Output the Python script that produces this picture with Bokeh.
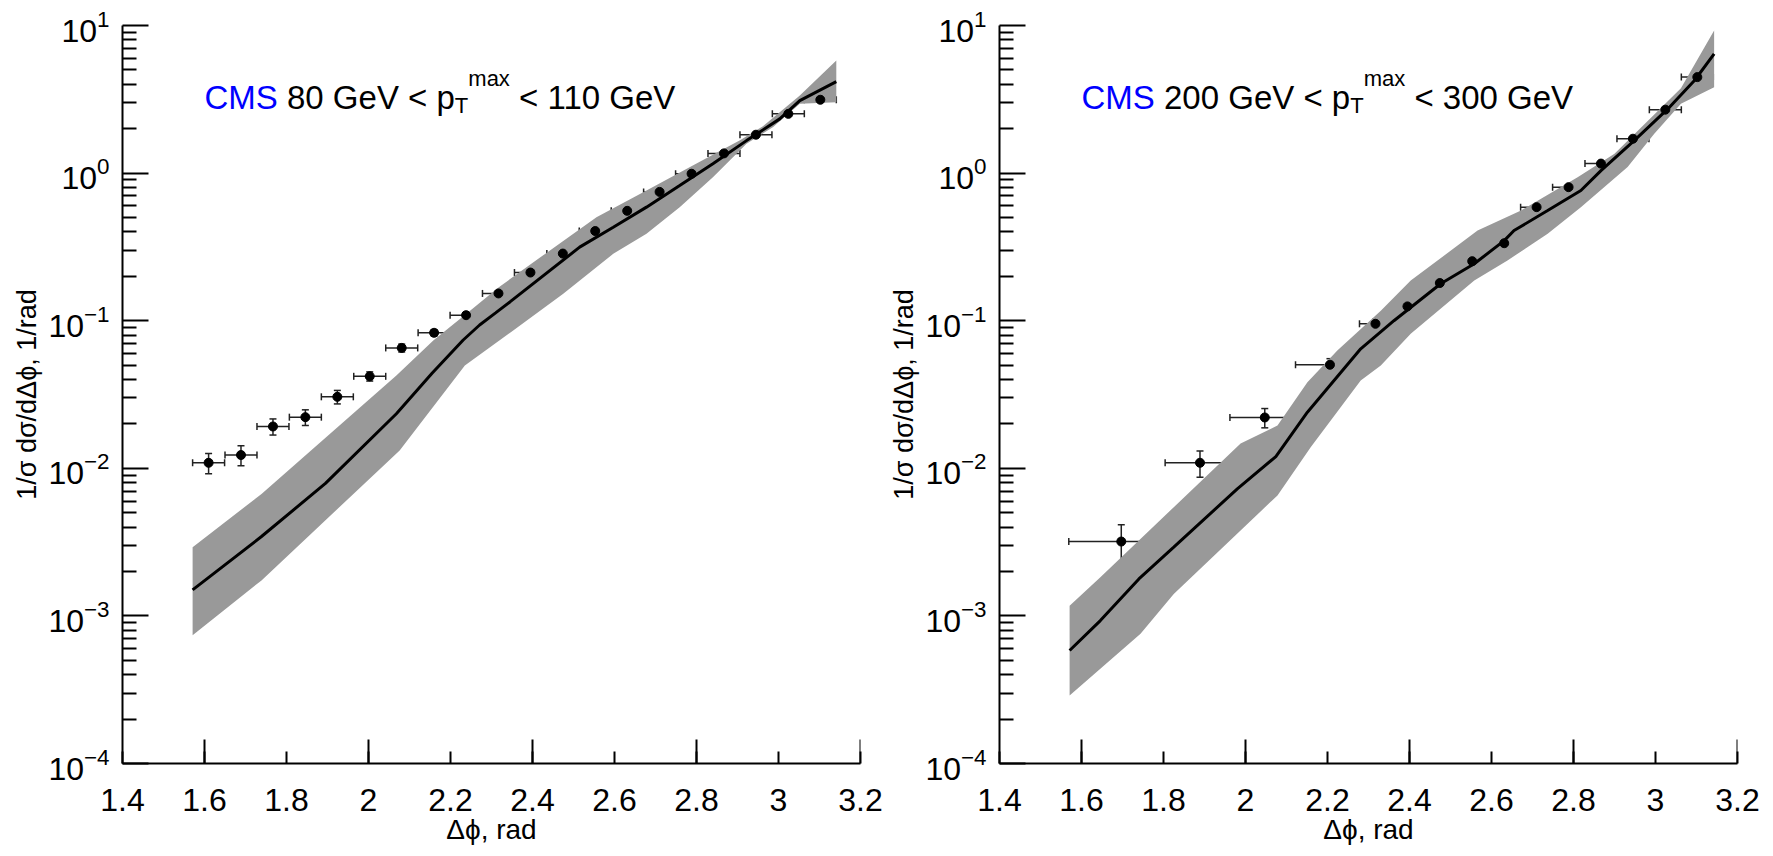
from bokeh.plotting import figure
from bokeh.models import (ColumnDataSource, Whisker, Label, FixedTicker, Range1d,
                          LinearScale, TeeHead, NumeralTickFormatter)
from bokeh.layouts import row
from bokeh.embed import file_html
from bokeh.resources import INLINE

# ---------------- data: left panel, 80 GeV < pT^max < 110 GeV ----------------
L_X = [1.610, 1.689, 1.767, 1.846, 1.924, 2.003, 2.081, 2.160, 2.238, 2.317,
       2.395, 2.474, 2.553, 2.631, 2.710, 2.788, 2.867, 2.945, 3.024, 3.102]
L_Y = [0.0109, 0.0123, 0.0192, 0.0222, 0.0305, 0.0420, 0.0654, 0.0828, 0.109, 0.153,
       0.212, 0.285, 0.405, 0.555, 0.746, 0.99, 1.36, 1.82, 2.52, 3.14]
L_XERR = [0.039, 0.039, 0.039, 0.039, 0.039, 0.039, 0.039, 0.039, 0.039, 0.039,
          0.039, 0.039, 0.039, 0.039, 0.039, 0.039, 0.039, 0.039, 0.039, 0.039]
L_YERR = [0.0017, 0.0019, 0.0024, 0.0027, 0.0032, 0.0030, 0.0040, 0.0040, 0.0045, 0.005,
          0.006, 0.008, 0.011, 0.015, 0.02, 0.025, 0.035, 0.045, 0.06, 0.08]
L_TH_X = [1.571, 1.739, 1.895, 2.068, 2.155, 2.231, 2.271, 2.310, 2.345, 2.515,
          2.597, 2.678, 2.759, 2.840, 2.922, 3.003, 3.052, 3.141]
L_TH_Y = [0.00150, 0.00345, 0.0079, 0.0234, 0.044, 0.0740, 0.0935, 0.113, 0.134, 0.315,
          0.430, 0.588, 0.824, 1.156, 1.66, 2.33, 3.10, 4.17]
L_UP_X = [1.571, 1.739, 2.068, 2.158, 2.238, 2.317, 2.434, 2.556, 2.678, 2.800,
          2.905, 2.962, 3.052, 3.141]
L_UP_Y = [0.00292, 0.0067, 0.0425, 0.0734, 0.111, 0.168, 0.288, 0.503, 0.762, 1.16,
          1.66, 2.08, 3.36, 5.8]
L_LO_X = [1.571, 1.739, 2.076, 2.235, 2.353, 2.475, 2.597, 2.678, 2.759, 2.840,
          2.922, 2.987, 3.052, 3.141]
L_LO_Y = [0.00074, 0.00174, 0.0132, 0.0497, 0.0859, 0.152, 0.284, 0.388, 0.588, 0.938,
          1.58, 2.05, 2.95, 3.02]

# ---------------- data: right panel, 200 GeV < pT^max < 300 GeV ----------------
R_X = [1.697, 1.889, 2.047, 2.206, 2.317, 2.395, 2.474, 2.553, 2.631, 2.710,
       2.788, 2.867, 2.945, 3.024, 3.102]
R_Y = [0.00319, 0.0109, 0.0221, 0.0503, 0.0953, 0.125, 0.180, 0.253, 0.335, 0.588,
       0.803, 1.16, 1.71, 2.69, 4.47]
R_XERR = [0.128, 0.085, 0.085, 0.084, 0.039, 0.039, 0.039, 0.039, 0.039, 0.039,
          0.039, 0.039, 0.039, 0.039, 0.039]
R_YERR = [0.00095, 0.0022, 0.0033, 0.005, 0.007, 0.008, 0.009, 0.012, 0.015, 0.025,
          0.03, 0.04, 0.05, 0.08, 0.12]
R_TH_X = [1.571, 1.646, 1.740, 1.825, 1.980, 2.074, 2.151, 2.281, 2.362, 2.476,
          2.558, 2.631, 2.655, 2.737, 2.818, 2.867, 2.948, 3.030, 3.095, 3.143]
R_TH_Y = [0.000583, 0.00093, 0.00178, 0.00292, 0.00726, 0.0120, 0.0240, 0.0645, 0.100, 0.178,
          0.243, 0.349, 0.408, 0.558, 0.762, 1.04, 1.66, 2.72, 4.24, 6.43]
R_UP_X = [1.571, 1.646, 1.825, 1.988, 2.078, 2.151, 2.224, 2.330, 2.403, 2.566,
          2.672, 2.810, 2.900, 2.981, 3.062, 3.143]
R_UP_Y = [0.00117, 0.00183, 0.00545, 0.0147, 0.0195, 0.0383, 0.0628, 0.117, 0.187, 0.408,
          0.558, 0.938, 1.35, 2.25, 3.75, 9.25]
R_LO_X = [1.571, 1.744, 1.825, 2.078, 2.159, 2.281, 2.330, 2.403, 2.558, 2.639,
          2.737, 2.818, 2.932, 2.997, 3.062, 3.143]
R_LO_Y = [0.000289, 0.000757, 0.00141, 0.00655, 0.0139, 0.0394, 0.0497, 0.0815, 0.187, 0.256,
          0.388, 0.588, 1.10, 1.85, 2.95, 3.82]

# ---------------- axes / labels ----------------
X_TICKS = [1.4, 1.6, 1.8, 2.0, 2.2, 2.4, 2.6, 2.8, 3.0, 3.2]
X_LONG_TICKS = [1.6, 2.0, 2.4, 2.8, 3.2]
Y_DECADES = [-4, -3, -2, -1, 0, 1]
X_LABEL = "Δϕ, rad"
Y_LABEL = "1/σ dσ/dΔϕ, 1/rad"
LEFT_RANGE = ("80", "110")
RIGHT_RANGE = ("200", "300")

FONT = "Liberation Sans"
BAND = "#999999"

# Arial / Liberation Sans advance widths (em)
EM = {' ': 0.278, 'G': 0.778, 'e': 0.556, 'V': 0.667, '<': 0.584, 'p': 0.556,
      'C': 0.722, 'M': 0.833, 'S': 0.667, 'T': 0.611, 'm': 0.833, 'a': 0.556, 'x': 0.5}
for d in "0123456789":
    EM[d] = 0.556


def tw(s, size):
    return sum(EM[c] for c in s) * size


FRAME = 738


def make_panel(rng, dx, dy, dxerr, dyerr, thx, thy, upx, upy, lox, loy, border_left, border_right):
    p = figure(frame_width=FRAME, frame_height=FRAME,
               x_range=Range1d(1.4, 3.2), y_range=Range1d(1e-4, 10),
               y_axis_type="log", output_backend="svg", toolbar_location=None,
               min_border_left=border_left, min_border_right=border_right,
               min_border_top=25, min_border_bottom=93)
    p.outline_line_color = None
    p.grid.visible = False
    p.background_fill_color = "white"
    p.border_fill_color = "white"

    # theory band and central line
    p.patch(upx + lox[::-1], upy + loy[::-1], fill_color=BAND, line_color=None)
    p.line(thx, thy, line_color="black", line_width=3)

    src = ColumnDataSource(dict(
        x=dx, y=dy,
        xl=[a - b for a, b in zip(dx, dxerr)], xu=[a + b for a, b in zip(dx, dxerr)],
        yl=[a - b for a, b in zip(dy, dyerr)], yu=[a + b for a, b in zip(dy, dyerr)]))
    ec = "#222222"
    p.add_layout(Whisker(source=src, base="y", lower="xl", upper="xu", dimension="width",
                         line_color=ec, line_width=1.5,
                         lower_head=TeeHead(size=7, line_color=ec, line_width=1.5),
                         upper_head=TeeHead(size=7, line_color=ec, line_width=1.5)))
    p.add_layout(Whisker(source=src, base="x", lower="yl", upper="yu", dimension="height",
                         line_color=ec, line_width=1.5,
                         lower_head=TeeHead(size=7, line_color=ec, line_width=1.5),
                         upper_head=TeeHead(size=7, line_color=ec, line_width=1.5)))
    p.scatter("x", "y", source=src, size=9, color="black")

    # long x ticks (pixel-height ticks on a helper range)
    p.extra_y_ranges = {"px": Range1d(0, FRAME)}
    p.extra_y_scales = {"px": LinearScale()}
    p.segment(x0=X_LONG_TICKS, y0=0, x1=X_LONG_TICKS, y1=24, y_range_name="px",
              line_color="black", line_width=2)

    xa = p.xaxis[0]
    xa.ticker = FixedTicker(ticks=X_TICKS, minor_ticks=[])
    xa.formatter = NumeralTickFormatter(format="0.[0]")
    xa.major_tick_in = 12
    xa.major_tick_out = 0
    xa.minor_tick_in = 0
    xa.minor_tick_out = 0
    xa.axis_line_width = 2
    xa.major_tick_line_width = 2
    xa.major_label_text_font = FONT
    xa.major_label_text_font_size = "32px"
    xa.major_label_text_color = "black"
    xa.major_label_standoff = 25
    xa.axis_label = X_LABEL
    xa.axis_label_text_font = FONT
    xa.axis_label_text_font_size = "28px"
    xa.axis_label_text_font_style = "normal"
    xa.axis_label_text_color = "black"
    xa.axis_label_standoff = 0

    ya = p.yaxis[0]
    ya.ticker = FixedTicker(ticks=[10.0 ** e for e in Y_DECADES],
                            minor_ticks=[m * 10.0 ** e for e in Y_DECADES[:-1] for m in range(2, 10)])
    ya.major_tick_in = 26
    ya.major_tick_out = 0
    ya.minor_tick_in = 14
    ya.minor_tick_out = 0
    ya.axis_line_width = 2
    ya.major_tick_line_width = 2
    ya.minor_tick_line_width = 2
    ya.major_label_text_font = FONT
    ya.major_label_text_font_size = "32px"
    ya.major_label_text_color = "black"
    ya.major_label_standoff = 13
    ya.axis_label = Y_LABEL
    ya.axis_label_text_font = FONT
    ya.axis_label_text_font_size = "27px"
    ya.axis_label_text_font_style = "normal"
    ya.axis_label_text_color = "black"
    ya.axis_label_standoff = 3

    # panel title: CMS lo GeV < p_T^max < hi GeV
    big, small = 33, 22
    base_y = 10 ** 0.514
    sub_y = 10 ** 0.458
    sup_y = 10 ** 0.639
    pieces = [("CMS", big, base_y, "blue"),
              (f" {rng[0]} GeV < p", big, base_y, "black"),
              ("T", small, sub_y, "black"),
              ("max", small, sup_y, "black"),
              (f" < {rng[1]} GeV", big, base_y, "black")]
    off = 82
    for txt, size, yy, col in pieces:
        stripped = txt.lstrip(" ")
        off += tw(txt[:len(txt) - len(stripped)], size)
        p.add_layout(Label(x=1.4, y=yy, x_offset=off, text=stripped, text_color=col,
                           text_font=FONT, text_font_size=f"{size}px",
                           text_baseline="alphabetic", text_align="left"))
        off += tw(stripped, size)
    return p


left = make_panel(LEFT_RANGE, L_X, L_Y, L_XERR, L_YERR, L_TH_X, L_TH_Y,
                  L_UP_X, L_UP_Y, L_LO_X, L_LO_Y, 122, 25)
right = make_panel(RIGHT_RANGE, R_X, R_Y, R_XERR, R_YERR, R_TH_X, R_TH_Y,
                   R_UP_X, R_UP_Y, R_LO_X, R_LO_Y, 114, 30)

layout = row(left, right)
open("out.html", "w").write(file_html(layout, INLINE))
